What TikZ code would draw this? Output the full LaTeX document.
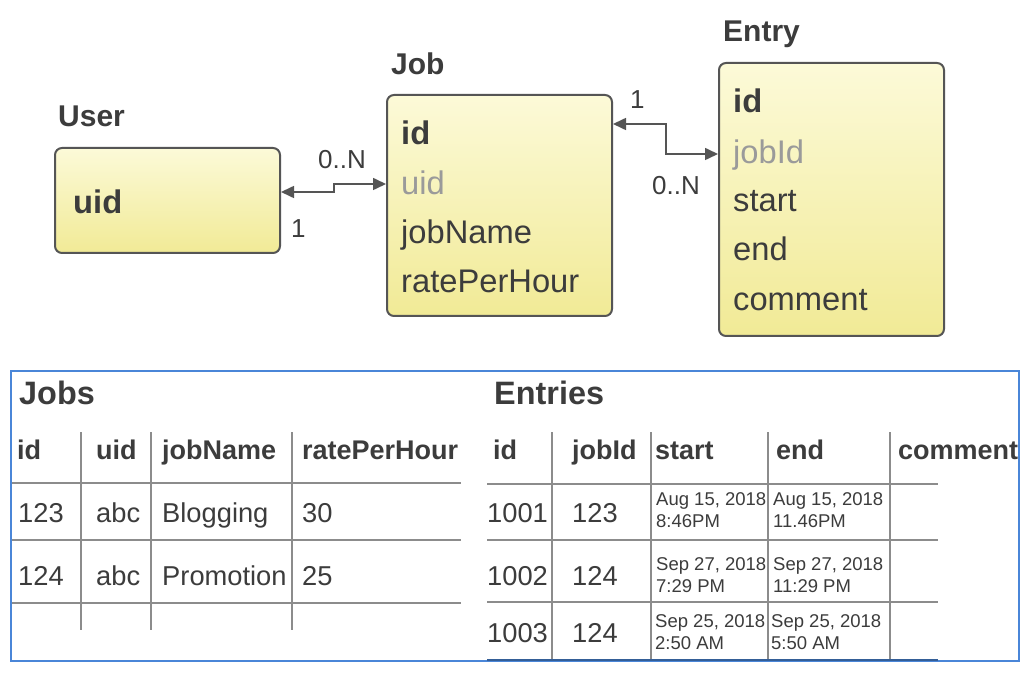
\documentclass[tikz,border=0pt]{standalone}
\usepackage{fontspec}
\setmainfont{Liberation Sans}
\usetikzlibrary{arrows.meta}
\definecolor{txt}{HTML}{3C3C3C}
\definecolor{fgray}{HTML}{9A9A9A}
\definecolor{bord}{HTML}{555555}
\definecolor{ytop}{HTML}{FCFAD8}
\definecolor{ybot}{HTML}{F1EA96}
\definecolor{framec}{HTML}{4A86D8}
\definecolor{tline}{HTML}{8C8C8C}
\begin{document}
\begin{tikzpicture}[x=1pt,y=-1pt,
 ebox/.style={draw=bord, line width=2pt, rounded corners=7pt, top color=ytop, bottom color=ybot, inner sep=0pt},
 T/.style={anchor=west, inner sep=0pt, text depth=0pt, text=txt},
 etitle/.style={T, text height=21.6pt, font=\fontsize{30}{36}\selectfont\bfseries},
 fld/.style={T, text height=23.5pt, font=\fontsize{32.7}{38}\selectfont},
 keyf/.style={T, text height=23.5pt, font=\fontsize{32.7}{38}\selectfont\bfseries},
 fkey/.style={fld, text=fgray},
 card/.style={T, text height=18.7pt, font=\fontsize{26}{30}\selectfont},
 conn/.style={draw=bord, line width=1.6pt, {Triangle[length=13pt,width=12pt]}-{Triangle[length=13pt,width=12pt]}},
 ttitle/.style={T, text height=23.3pt, font=\fontsize{32.4}{36}\selectfont\bfseries},
 th/.style={T, text height=19.4pt, font=\fontsize{27}{30}\selectfont\bfseries},
 td/.style={T, text height=19.7pt, font=\fontsize{27.3}{30}\selectfont},
 tdate/.style={anchor=north west, inner sep=0pt, align=left, text=txt, font=\fontsize{18.5}{22}\selectfont},
 gline/.style={draw=tline, line width=1.5pt}
]
\useasboundingbox (0,0) rectangle (1034,676);
\fill[white] (0,0) rectangle (1034,676);

% entity boxes
\node[ebox, minimum width=225pt, minimum height=105pt] (user) at (167.5,200.5) {};
\node[ebox, minimum width=225pt, minimum height=221pt] (job) at (499.5,205.5) {};
\node[ebox, minimum width=225pt, minimum height=273pt] (entry) at (831.5,199.5) {};

\node[etitle] (userT) at (58,116) {User};
\node[etitle] (jobT) at (391,64) {Job};
\node[etitle] (entryT) at (723,31) {Entry};

\node[keyf] (uUid) at (73,202) {uid};

\node[keyf] (jId) at (401,133) {id};
\node[fkey] (jUid) at (401,183) {uid};
\node[fld] (jName) at (401,232) {jobName};
\node[fld] (jRate) at (401,281) {ratePerHour};

\node[keyf] (eId) at (733,101) {id};
\node[fkey] (eJob) at (733,152) {jobId};
\node[fld] (eStart) at (733,200) {start};
\node[fld] (eEnd) at (733,249) {end};
\node[fld] (eCom) at (733,299) {comment};

% connectors
\draw[conn] ([yshift=8.5pt]user.east) -- ++(53,0) |- ([yshift=21.5pt]job.west);
\draw[conn] ([yshift=81.5pt]job.east) -- ++(53,0) |- ([yshift=45.5pt]entry.west);
\node[card] (c1) at (318,159) {0..N};
\node[card] (c2) at (291,228) {1};
\node[card] (c3) at (630,99) {1};
\node[card] (c4) at (652,185) {0..N};

% bottom frame
\draw[framec, line width=2pt] (11,371) rectangle (1019,661);

% Jobs table
\node[ttitle] (jobsT) at (19,393) {Jobs};
\foreach \x in {81,151,292} \draw[gline] (\x,432) -- (\x,630);
\foreach \y in {483,540,603} \draw[gline] (12,\y) -- (461,\y);
\node[th] (jh1) at (17,450) {id};
\node[th] (jh2) at (96,450) {uid};
\node[th] (jh3) at (162,450) {jobName};
\node[th] (jh4) at (302,450) {ratePerHour};
\node[td] (j11) at (18,513) {123};
\node[td] (j12) at (96,513) {abc};
\node[td] (j13) at (162,513) {Blogging};
\node[td] (j14) at (302,513) {30};
\node[td] (j21) at (18,576) {124};
\node[td] (j22) at (96,576) {abc};
\node[td] (j23) at (162,576) {Promotion};
\node[td] (j24) at (302,576) {25};

% Entries table
\node[ttitle] (entT) at (494,393) {Entries};
\foreach \x in {552,651,768,890} \draw[gline] (\x,432) -- (\x,660);
\foreach \y in {484,540,602} \draw[gline] (487,\y) -- (938,\y);
\draw[framec!70!black, line width=2pt] (487,660) -- (938,660);
\node[th] (eh1) at (493,450) {id};
\node[th] (eh2) at (572,450) {jobId};
\node[th] (eh3) at (655,450) {start};
\node[th] (eh4) at (776,450) {end};
\node[th] (eh5) at (898,450) {comment};
\node[td] (e11) at (487,513) {1001};
\node[td] (e12) at (572,513) {123};
\node[tdate] (e13) at (656,492) {Aug 15, 2018\\8:46PM};
\node[tdate] (e14) at (773,492) {Aug 15, 2018\\11.46PM};
\node[td] (e21) at (487,576) {1002};
\node[td] (e22) at (572,576) {124};
\node[tdate] (e23) at (656,557) {Sep 27, 2018\\7:29 PM};
\node[tdate] (e24) at (773,557) {Sep 27, 2018\\11:29 PM};
\node[td] (e31) at (487,633) {1003};
\node[td] (e32) at (572,633) {124};
\node[tdate] (e33) at (655,614) {Sep 25, 2018\\2:50 AM};
\node[tdate] (e34) at (771,614) {Sep 25, 2018\\5:50 AM};
\end{tikzpicture}
\end{document}
